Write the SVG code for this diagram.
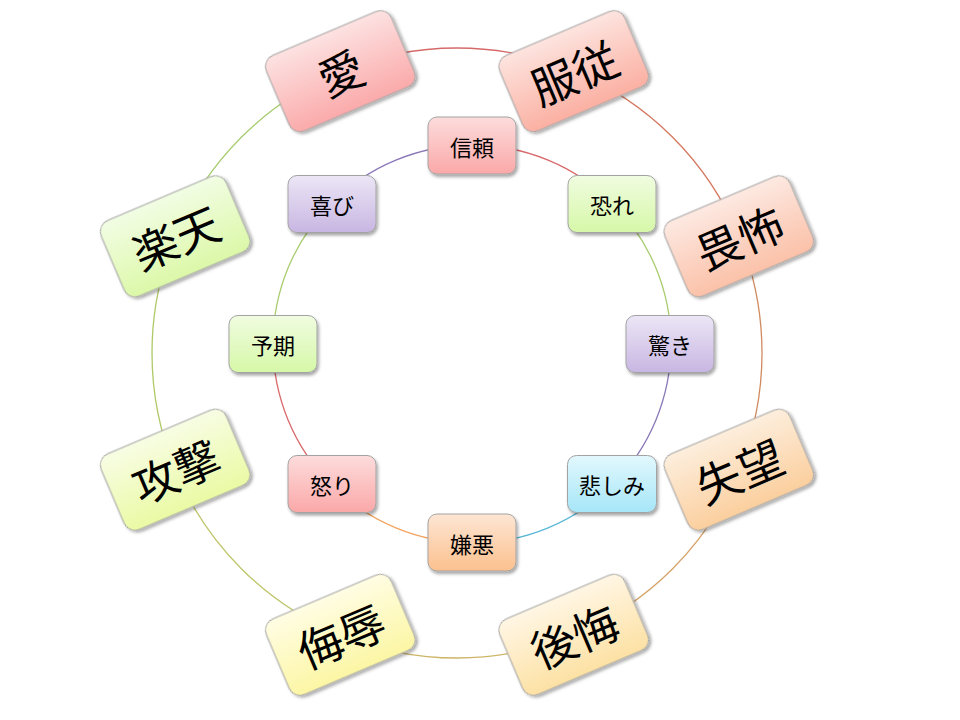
<svg xmlns="http://www.w3.org/2000/svg" width="960" height="720" viewBox="0 0 960 720">
<style>
.conn path{fill:none;stroke-width:1.3}
.node rect{stroke:#a3a3a3;stroke-width:1;filter:url(#sh)}
.node text{font-family:"Noto Sans CJK JP","Noto Sans CJK SC",sans-serif;fill:#000;text-anchor:middle;dominant-baseline:central;font-weight:400}
.in text{font-size:22px}
.out text{font-size:45px}
</style>
<defs>
<filter id="sh" x="-20%" y="-20%" width="140%" height="150%"><feDropShadow dx="1.5" dy="2.5" stdDeviation="1.8" flood-color="#000" flood-opacity="0.35"/></filter>
<linearGradient id="iR" x1="0" y1="0" x2="0" y2="1"><stop offset="0" stop-color="#fddcdc"/><stop offset="1" stop-color="#fba8a8"/></linearGradient>
<linearGradient id="iG" x1="0" y1="0" x2="0" y2="1"><stop offset="0" stop-color="#f0fce0"/><stop offset="1" stop-color="#d6f8a8"/></linearGradient>
<linearGradient id="iP" x1="0" y1="0" x2="0" y2="1"><stop offset="0" stop-color="#ece6f6"/><stop offset="1" stop-color="#c8b6e2"/></linearGradient>
<linearGradient id="iB" x1="0" y1="0" x2="0" y2="1"><stop offset="0" stop-color="#e2f8fd"/><stop offset="1" stop-color="#a6e6f8"/></linearGradient>
<linearGradient id="iO" x1="0" y1="0" x2="0" y2="1"><stop offset="0" stop-color="#fde6d4"/><stop offset="1" stop-color="#fcc08e"/></linearGradient>
<linearGradient id="o1" x1="0" y1="0" x2="0" y2="1"><stop offset="0" stop-color="#fde2e2"/><stop offset="1" stop-color="#fbaaaa"/></linearGradient>
<linearGradient id="o2" x1="0" y1="0" x2="0" y2="1"><stop offset="0" stop-color="#fde4df"/><stop offset="1" stop-color="#fbb0a2"/></linearGradient>
<linearGradient id="o3" x1="0" y1="0" x2="0" y2="1"><stop offset="0" stop-color="#fde9e2"/><stop offset="1" stop-color="#fbc1a8"/></linearGradient>
<linearGradient id="o4" x1="0" y1="0" x2="0" y2="1"><stop offset="0" stop-color="#fdeedd"/><stop offset="1" stop-color="#fbcf9e"/></linearGradient>
<linearGradient id="o5" x1="0" y1="0" x2="0" y2="1"><stop offset="0" stop-color="#fff6e4"/><stop offset="1" stop-color="#fde1a4"/></linearGradient>
<linearGradient id="o6" x1="0" y1="0" x2="0" y2="1"><stop offset="0" stop-color="#fffde4"/><stop offset="1" stop-color="#fcf6a4"/></linearGradient>
<linearGradient id="o7" x1="0" y1="0" x2="0" y2="1"><stop offset="0" stop-color="#f8fde4"/><stop offset="1" stop-color="#eafaa4"/></linearGradient>
<linearGradient id="o8" x1="0" y1="0" x2="0" y2="1"><stop offset="0" stop-color="#f2fde4"/><stop offset="1" stop-color="#dcf8a8"/></linearGradient>
</defs>
<rect width="960" height="720" fill="#fff"/>
<g id="connectors" class="conn">
<path d="M472,145 A199,199 0 0 1 612.71,203.29" stroke="#d9696a"/>
<path d="M612.71,203.29 A199,199 0 0 1 671,344" stroke="#a9cc6e"/>
<path d="M671,344 A199,199 0 0 1 612.71,484.71" stroke="#8a78b8"/>
<path d="M612.71,484.71 A199,199 0 0 1 472,543" stroke="#5ab8d6"/>
<path d="M472,543 A199,199 0 0 1 331.29,484.71" stroke="#f4a460"/>
<path d="M331.29,484.71 A199,199 0 0 1 273,344" stroke="#d9696a"/>
<path d="M273,344 A199,199 0 0 1 331.29,203.29" stroke="#a9cc6e"/>
<path d="M331.29,203.29 A199,199 0 0 1 472,145" stroke="#8a78b8"/>
<path d="M340.28,71.22 A305,305 0 0 1 573.72,71.22" stroke="#d66a6a"/>
<path d="M573.72,71.22 A305,305 0 0 1 738.78,236.28" stroke="#d4775f"/>
<path d="M738.78,236.28 A305,305 0 0 1 738.78,469.72" stroke="#d08a5e"/>
<path d="M738.78,469.72 A305,305 0 0 1 573.72,634.78" stroke="#d5a46a"/>
<path d="M573.72,634.78 A305,305 0 0 1 340.28,634.78" stroke="#cdb566"/>
<path d="M340.28,634.78 A305,305 0 0 1 175.22,469.72" stroke="#bfc56a"/>
<path d="M175.22,469.72 A305,305 0 0 1 175.22,236.28" stroke="#aec966"/>
<path d="M175.22,236.28 A305,305 0 0 1 340.28,71.22" stroke="#a8cc70"/>
</g>
<g id="n-shinrai" class="node in" transform="translate(472,145.5)"><rect x="-44" y="-28.5" width="88" height="57" rx="9" fill="url(#iR)"/><text>信頼</text></g>
<g id="n-osore" class="node in" transform="translate(612,204)"><rect x="-44" y="-28.5" width="88" height="57" rx="9" fill="url(#iG)"/><text>恐れ</text></g>
<g id="n-odoroki" class="node in" transform="translate(670,344)"><rect x="-44" y="-28.5" width="88" height="57" rx="9" fill="url(#iP)"/><text>驚き</text></g>
<g id="n-kanashimi" class="node in" transform="translate(612,484)"><rect x="-44.5" y="-28.5" width="89" height="57" rx="9" fill="url(#iB)"/><text>悲しみ</text></g>
<g id="n-keno" class="node in" transform="translate(472,542.5)"><rect x="-44" y="-28.5" width="88" height="57" rx="9" fill="url(#iO)"/><text>嫌悪</text></g>
<g id="n-ikari" class="node in" transform="translate(332,484)"><rect x="-44" y="-28.5" width="88" height="57" rx="9" fill="url(#iR)"/><text>怒り</text></g>
<g id="n-yoki" class="node in" transform="translate(273,344)"><rect x="-44" y="-28.5" width="88" height="57" rx="9" fill="url(#iG)"/><text>予期</text></g>
<g id="n-yorokobi" class="node in" transform="translate(332,204)"><rect x="-44" y="-28.5" width="88" height="57" rx="9" fill="url(#iP)"/><text>喜び</text></g>
<g id="n-ai" class="node out" transform="translate(340.3,71.2) rotate(-23)"><rect x="-68" y="-41" width="136" height="82" rx="12" fill="url(#o1)"/><text>愛</text></g>
<g id="n-fukuju" class="node out" transform="translate(573.7,71.2) rotate(-23)"><rect x="-68" y="-41" width="136" height="82" rx="12" fill="url(#o2)"/><text>服従</text></g>
<g id="n-ifu" class="node out" transform="translate(738.8,236.3) rotate(-23)"><rect x="-68" y="-41" width="136" height="82" rx="12" fill="url(#o3)"/><text>畏怖</text></g>
<g id="n-shitsubo" class="node out" transform="translate(738.8,469.7) rotate(-23)"><rect x="-68" y="-41" width="136" height="82" rx="12" fill="url(#o4)"/><text>失望</text></g>
<g id="n-kokai" class="node out" transform="translate(573.7,634.8) rotate(-23)"><rect x="-68" y="-41" width="136" height="82" rx="12" fill="url(#o5)"/><text>後悔</text></g>
<g id="n-bujoku" class="node out" transform="translate(340.3,634.8) rotate(-23)"><rect x="-68" y="-41" width="136" height="82" rx="12" fill="url(#o6)"/><text>侮辱</text></g>
<g id="n-kogeki" class="node out" transform="translate(175.2,469.7) rotate(-23)"><rect x="-68" y="-41" width="136" height="82" rx="12" fill="url(#o7)"/><text>攻撃</text></g>
<g id="n-rakuten" class="node out" transform="translate(175.2,236.3) rotate(-23)"><rect x="-68" y="-41" width="136" height="82" rx="12" fill="url(#o8)"/><text>楽天</text></g>
</svg>
